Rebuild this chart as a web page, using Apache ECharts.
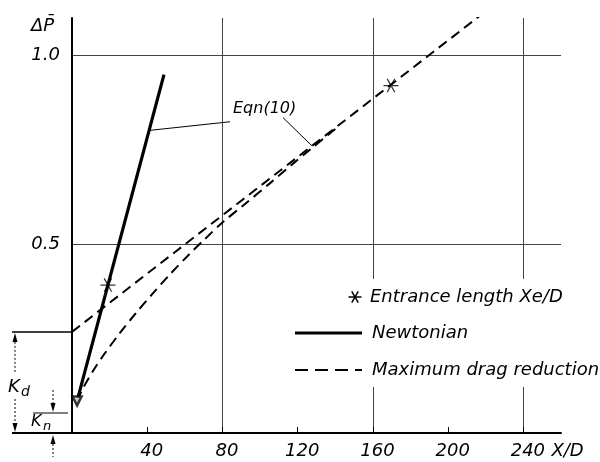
<!DOCTYPE html>
<html>
<head>
<meta charset="utf-8">
<script src="https://cdn.jsdelivr.net/npm/echarts@6/dist/echarts.min.js"></script>
<style>
  html, body { margin: 0; padding: 0; background: #fff; }
  #main { width: 600px; height: 462px; }
</style>
</head>
<body>
<div id="main"></div>
<script>
// Pressure drop vs. axial distance in the entrance region of a pipe
const kdLevel = 0.268;          // intercept of the developed drag-reduction line (K_d)
const knLevel = 0.053;          // Newtonian entrance loss level (K_n)

const newtonian = [[2.7, 0.085], [48.9, 0.95]];
const maxDragLine = [[0, kdLevel], [217.4, 1.108]];
const maxDragEntry = [
  [2.7, 0.085], [6, 0.12], [11, 0.163], [17, 0.208], [25, 0.262], [34, 0.318],
  [43, 0.37], [52, 0.42], [62, 0.472], [70, 0.511], [80, 0.558], [92, 0.607],
  [105, 0.661], [118, 0.716], [127, 0.753], [140, 0.806]
];
const entranceLength = [[19.1, 0.392], [169.6, 0.921]];
const originMark = [[2.7, 0.085]];

// leader lines of the "Eqn(10)" note, in data units
const eqnLeaderA = [[41, 0.802], [84, 0.825]];
const eqnLeaderB = [[112.2, 0.836], [127.6, 0.761]];
const eqnLabelAt = [85.6, 0.859];

const xMax = 260, yMax = 1.1;
const gridTicksX = 80, labelTicksX = 40, ticksY = 0.5;
const xTickValues = [0, 40, 80, 120, 160, 200, 240];
const xUnitLabel = 'X/D';

const FONT = 'DejaVu Sans';
const starD = 'M0,9.2L20,9.2L20,10.8L0,10.8Z M5.7,0.9L15.7,18.2L14.3,19.1L4.3,1.8Z M14.3,0.9L4.3,18.2L5.7,19.1L15.7,1.8Z';

const chart = echarts.init(document.getElementById('main'));

const option = {
  animation: false,
  backgroundColor: '#fff',
  textStyle: { fontFamily: FONT, fontStyle: 'italic', color: '#000' },
  grid: { left: 72, right: 39, top: 18, bottom: 29, containLabel: false },
  xAxis: [
    {
      type: 'value', min: 0, max: xMax, interval: gridTicksX,
      axisLine: { show: false }, axisTick: { show: false }, axisLabel: { show: false },
      splitLine: { show: true, showMaxLine: false, lineStyle: { color: '#444', width: 1 } }
    },
    {
      type: 'value', position: 'bottom', min: 0, max: xMax, interval: labelTicksX,
      axisLine: { show: true, lineStyle: { color: '#000', width: 2 } },
      axisTick: { show: true, inside: true, length: 6, customValues: xTickValues,
                  lineStyle: { color: '#000', width: 1 } },
      splitLine: { show: false },
      axisLabel: {
        margin: 9, fontSize: 18, fontFamily: FONT, fontStyle: 'italic', color: '#000',
        padding: [0, 0, 0, 9], showMaxLabel: false, showMinLabel: false,
        formatter: v => (v === 0 || v > 240 ? '' : String(v))
      }
    }
  ],
  yAxis: {
    type: 'value', min: 0, max: yMax, interval: ticksY,
    axisLine: { show: true, lineStyle: { color: '#000', width: 2 } },
    axisTick: { show: false },
    splitLine: { show: true, showMaxLine: false, lineStyle: { color: '#444', width: 1 } },
    axisLabel: {
      margin: 12, fontSize: 18, fontFamily: FONT, fontStyle: 'italic', color: '#000',
      showMaxLabel: false,
      formatter: v => (v === 0 || v > 1.05 ? '' : v.toFixed(1))
    }
  },
  series: [
    {
      name: 'Maximum drag reduction', type: 'line', xAxisIndex: 1, data: maxDragLine,
      symbol: 'none', lineStyle: { color: '#000', width: 2, type: [10, 6] }, z: 3
    },
    {
      name: 'Maximum drag reduction (entry)', type: 'line', xAxisIndex: 1, data: maxDragEntry,
      smooth: 0.3, symbol: 'none', lineStyle: { color: '#000', width: 2, type: [10, 6] }, z: 3
    },
    {
      name: 'Newtonian', type: 'line', xAxisIndex: 1, data: newtonian,
      symbol: 'none', lineStyle: { color: '#000', width: 3.2 }, z: 4
    },
    {
      type: 'line', xAxisIndex: 1, data: eqnLeaderA, symbol: 'none', silent: true,
      lineStyle: { color: '#000', width: 1 }, z: 4
    },
    {
      type: 'line', xAxisIndex: 1, data: eqnLeaderB, symbol: 'none', silent: true,
      lineStyle: { color: '#000', width: 1 }, z: 4
    },
    {
      name: 'Entrance length Xe/D', type: 'scatter', xAxisIndex: 1, data: entranceLength,
      symbol: 'path://' + starD, symbolSize: [15, 14],
      itemStyle: { color: '#000' }, z: 6
    },
    {
      type: 'scatter', xAxisIndex: 1, data: originMark,
      symbol: 'triangle', symbolRotate: 180, symbolSize: 9,
      itemStyle: { color: '#fff', borderColor: '#000', borderWidth: 2.5 }, z: 7
    }
  ]
};

chart.setOption(option);

// annotations placed from data values
const px = (x, y) => chart.convertToPixel({ xAxisIndex: 1, yAxisIndex: 0 }, [x, y]);
const [x0, y0] = px(0, 0);
const yKd = px(0, kdLevel)[1];
const yKn = px(0, knLevel)[1];
const eqnPos = px(eqnLabelAt[0], eqnLabelAt[1]);
const lastTickX = px(240, 0)[0];

const txt = (text, x, y, size, extra) => ({
  type: 'text', x, y, z: 20,
  style: Object.assign({ text, fill: '#000', font: 'italic ' + size + 'px "' + FONT + '"',
                         textAlign: 'left', textVerticalAlign: 'middle' }, extra || {})
});
const seg = (x1, y1, x2, y2, w, dash) => ({
  type: 'line', z: 20, shape: { x1, y1, x2, y2 },
  style: { stroke: '#000', lineWidth: w, lineDash: dash || null }
});
const head = (x, yTip, dir) => ({
  type: 'polygon', z: 20,
  shape: { points: [[x, yTip], [x - 2.5, yTip + dir * 9], [x + 2.5, yTip + dir * 9]] },
  style: { fill: '#000' }
});
// six-armed star drawn from three strokes
const star = (cx, cy, r) => [
  seg(cx - r, cy, cx + r, cy, 1.5),
  seg(cx - r / 2, cy - r * 0.866, cx + r / 2, cy + r * 0.866, 1.5),
  seg(cx + r / 2, cy - r * 0.866, cx - r / 2, cy + r * 0.866, 1.5)
];

const graphics = [
  // axis name of the ordinate
  txt('\u0394P\u0304', 31, 26, 18),
  // unit of the abscissa, after the last tick label
  txt(xUnitLabel, lastTickX + 28, y0 + 18, 18),
  // Eqn(10) note
  txt('Eqn(10)', eqnPos[0], eqnPos[1], 16),
  // extensions of the reference levels left of the axis
  seg(12, y0, x0, y0, 2),
  seg(12, yKd, x0, yKd, 1.5),
  seg(33, yKn, x0 - 4, yKn, 1.2),
  // K_d dimension
  head(15, yKd + 1, 1),
  seg(15, yKd + 10, 15, 373, 1, [2, 2]),
  seg(15, 399, 15, y0 - 9, 1, [2, 2]),
  head(15, y0 - 1, -1),
  txt('K', 8, 387, 18),
  txt('d', 21, 392, 14),
  // K_n dimension
  seg(53, 390, 53, yKn - 9, 1, [2, 2]),
  head(53, yKn - 1, -1),
  head(53, y0 + 2, 1),
  seg(53, y0 + 11, 53, 457, 1, [2, 2]),
  txt('K', 31, 422, 16),
  txt('n', 43, 427, 13),
  // legend
  { type: 'rect', z: 15, shape: { x: 292, y: 279, width: 308, height: 108 }, style: { fill: '#fff' } }
].concat(star(355, 297, 6.5), [
  txt('Entrance length Xe/D', 370, 297, 18),
  seg(295, 333, 362, 333, 3),
  txt('Newtonian', 372, 333, 18),
  seg(295, 370, 362, 370, 2, [13, 7]),
  txt('Maximum drag reduction', 372, 370, 18)
]);

chart.setOption({ graphic: graphics });
</script>
</body>
</html>
